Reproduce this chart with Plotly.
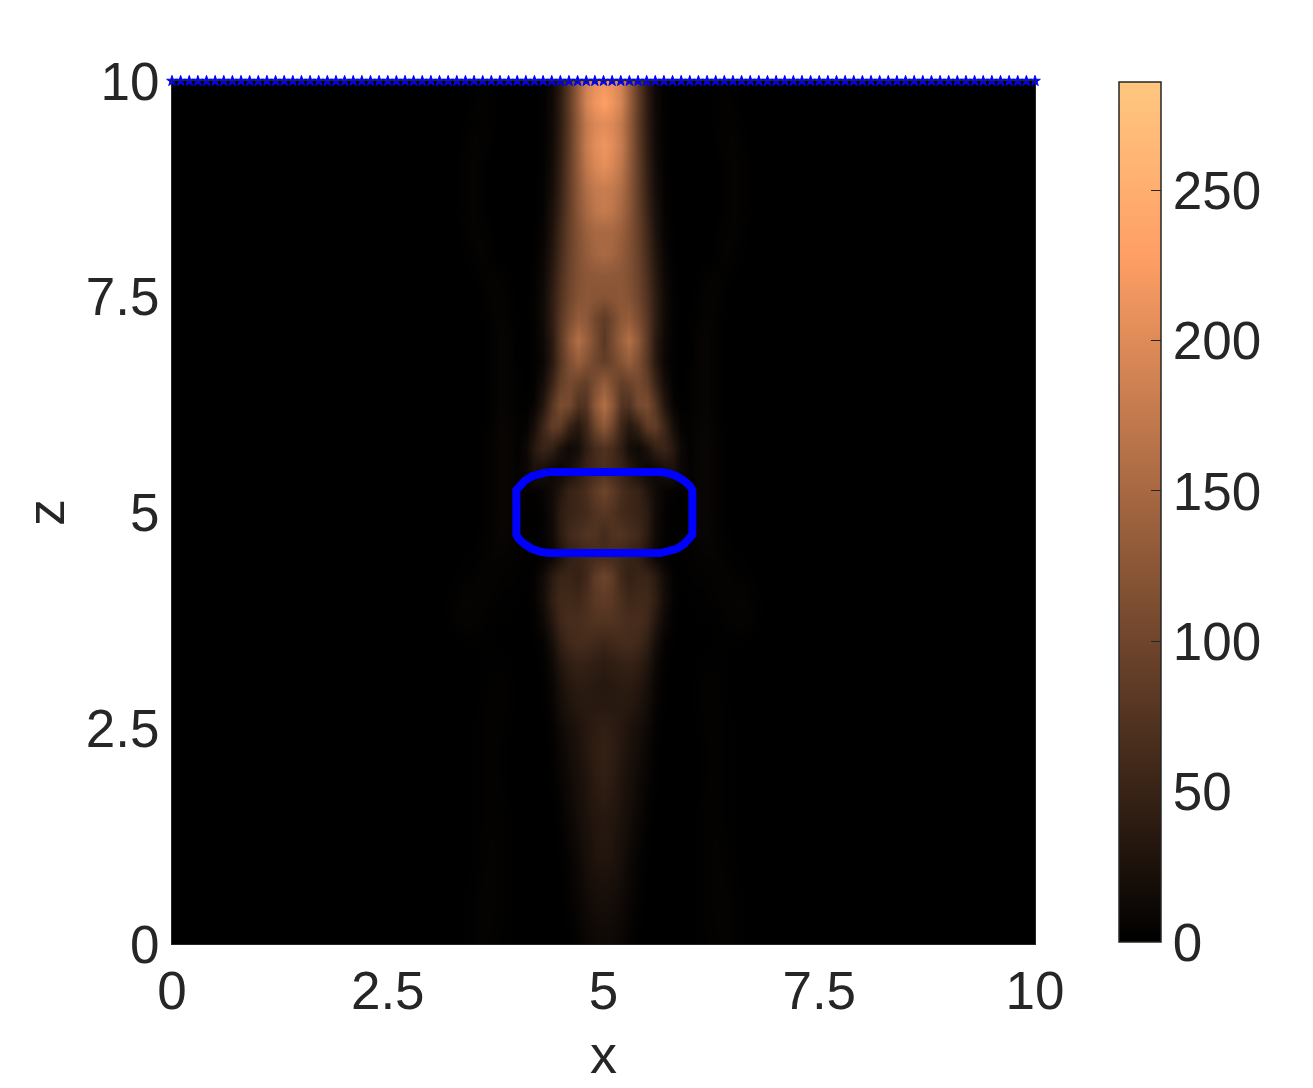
import plotly.graph_objects as go

# half-profile offsets from the centre line x = 5
dx = [0, .1, .2, .3, .4, .5, .6, .7, .8, .9, 1.0, 1.1, 1.2, 1.3, 1.4, 1.5, 1.6, 1.7, 1.8, 1.9, 2.0]
z_levels = [10, 9.75, 9.5, 9.25, 9, 8.75, 8.5, 8.25, 8, 7.75, 7.5, 7.25, 7, 6.75, 6.5, 6.25, 6, 5.75, 5.5, 5.25,
            5, 4.75, 4.5, 4.25, 4, 3.75, 3.5, 3.25, 3, 2.75, 2.5, 2.25, 2, 1.5, 1, .5, 0]
half_rows = [
 [215,208,185,138, 84, 38, 12,  2, 0, 0, 0, 0, 0, 1, 2, 1, 0, 0, 0, 0, 0],
 [228,215,190,140, 86, 40, 13,  2, 0, 0, 0, 0, 0, 2, 3, 2, 0, 0, 0, 0, 0],
 [203,196,175,133, 84, 40, 14,  2, 0, 0, 0, 0, 0, 1, 3, 3, 1, 0, 0, 0, 0],
 [215,202,178,135, 86, 42, 15,  3, 0, 0, 0, 0, 0, 1, 3, 4, 2, 0, 0, 0, 0],
 [205,194,170,132, 87, 45, 17,  3, 0, 0, 0, 0, 0, 0, 2, 4, 3, 1, 0, 0, 0],
 [180,175,158,127, 88, 48, 19,  4, 0, 0, 0, 0, 0, 0, 2, 4, 3, 1, 0, 0, 0],
 [178,170,150,124, 90, 52, 23,  5, 0, 0, 0, 0, 0, 0, 2, 4, 3, 1, 0, 0, 0],
 [150,150,138,118, 92, 57, 27,  7, 1, 0, 0, 0, 0, 1, 3, 4, 2, 0, 0, 0, 0],
 [152,146,132,116, 93, 62, 31,  9, 1, 0, 0, 0, 0, 1, 4, 3, 1, 0, 0, 0, 0],
 [128,128,125,115, 96, 67, 36, 12, 2, 0, 0, 1, 3, 4, 3, 1, 0, 0, 0, 0, 0],
 [120,122,125,118,100, 72, 41, 15, 3, 0, 0, 2, 4, 4, 1, 0, 0, 0, 0, 0, 0],
 [ 85,102,126,132,110, 78, 42, 15, 3, 0, 1, 3, 5, 3, 1, 0, 0, 0, 0, 0, 0],
 [ 80,108,138,160,128, 82, 38, 12, 2, 0, 1, 5, 6, 2, 0, 0, 0, 0, 0, 0, 0],
 [ 88,100,120,136,114, 78, 36, 10, 2, 0, 1, 5, 6, 2, 0, 0, 0, 0, 0, 0, 0],
 [132,112, 88, 95,106, 90, 52, 18, 3, 0, 2, 5, 6, 3, 0, 0, 0, 0, 0, 0, 0],
 [160,128, 75, 72,105,110, 78, 32, 7, 1, 2, 5, 6, 3, 0, 0, 0, 0, 0, 0, 0],
 [128,100, 55, 34, 50, 85, 88, 55, 20, 4, 3, 6, 7, 3, 1, 0, 0, 0, 0, 0, 0],
 [ 72, 62, 42, 18, 12, 25, 45, 52, 36, 10, 3, 7, 8, 4, 1, 0, 0, 0, 0, 0, 0],
 [ 68, 60, 50, 34, 18, 10, 12, 22, 24, 9, 4, 7, 8, 4, 1, 0, 0, 0, 0, 0, 0],
 [ 98, 85, 65, 55, 50, 30, 15,  6, 3, 2, 4, 7, 8, 4, 1, 0, 0, 0, 0, 0, 0],
 [ 78, 72, 60, 55, 50, 40, 15,  4, 1, 1, 3, 7, 8, 4, 1, 0, 0, 0, 0, 0, 0],
 [ 60, 72, 74, 65, 58, 38, 14,  4, 1, 1, 3, 6, 7, 4, 2, 0, 0, 0, 0, 0, 0],
 [ 62, 60, 55, 50, 44, 25,  9,  2, 1, 2, 3, 4, 5, 5, 3, 1, 1, 0, 0, 0, 0],
 [ 98, 85, 58, 46, 52, 52, 38, 16, 3, 1, 2, 3, 3, 5, 5, 3, 2, 1, 0, 0, 0],
 [ 85, 80, 66, 56, 58, 58, 42, 18, 4, 0, 1, 1, 2, 3, 4, 5, 5, 3, 1, 0, 0],
 [ 74, 74, 68, 64, 64, 56, 34, 12, 2, 0, 0, 1, 1, 1, 3, 4, 5, 4, 1, 0, 0],
 [ 54, 58, 62, 62, 58, 44, 20,  5, 1, 0, 0, 0, 0, 1, 1, 1, 1, 0, 0, 0, 0],
 [ 38, 42, 46, 48, 43, 30, 12,  2, 0, 0, 0, 1, 2, 2, 1, 0, 0, 0, 0, 0, 0],
 [ 34, 36, 38, 38, 33, 22,  8,  1, 0, 0, 0, 2, 3, 3, 1, 0, 0, 0, 0, 0, 0],
 [ 36, 36, 36, 34, 27, 17,  6,  1, 0, 0, 0, 2, 3, 3, 2, 0, 0, 0, 0, 0, 0],
 [ 44, 40, 34, 27, 20, 12,  3,  0, 0, 0, 0, 1, 3, 3, 2, 1, 0, 0, 0, 0, 0],
 [ 46, 41, 33, 25, 17, 9,  2,  0, 0, 0, 0, 0, 2, 3, 2, 1, 0, 0, 0, 0, 0],
 [ 45, 40, 30, 22, 15, 7,  2,  0, 0, 0, 0, 0, 2, 3, 2, 1, 0, 0, 0, 0, 0],
 [ 35, 32, 25, 18, 10, 3,  0,  0, 0, 0, 0, 1, 3, 3, 2, 1, 0, 0, 0, 0, 0],
 [ 30, 28, 20, 12,  5, 1,  0,  0, 0, 0, 0, 1, 3, 4, 3, 1, 0, 0, 0, 0, 0],
 [ 20, 18, 14,  8,  3, 0,  0,  0, 0, 0, 0, 1, 3, 4, 4, 2, 1, 0, 0, 0, 0],
 [ 12, 12,  8,  3,  0, 0,  0,  0, 0, 0, 0, 1, 2, 3, 4, 2, 1, 0, 0, 0, 0],
]

# mirrored about x = 5, black background beyond
x_grid = [0] + [5 - d for d in reversed(dx[1:])] + [5 + d for d in dx] + [10]
z_grid = list(reversed(z_levels))
field = [[0] + list(reversed(r[1:])) + r + [0] for r in reversed(half_rows)]

# closed blue curve
box_x = [4.36, 4.27, 4.17, 4.09, 4.02, 3.99, 3.99, 4.02, 4.09, 4.17, 4.27, 4.36,
         5.66, 5.75, 5.85, 5.93, 6.00, 6.03, 6.03, 6.00, 5.93, 5.85, 5.75, 5.66, 4.36]
box_z = [5.47, 5.455, 5.42, 5.37, 5.31, 5.26, 4.74, 4.69, 4.63, 4.58, 4.545, 4.53,
         4.53, 4.545, 4.58, 4.63, 4.69, 4.74, 5.26, 5.31, 5.37, 5.42, 5.455, 5.47, 5.47]

# source points along the top edge
star_x = [i / 10 for i in range(101)]
star_z = [10] * 101

x_ticks = [0, 2.5, 5, 7.5, 10]
x_labels = ["0", "2.5", "5", "7.5", "10"]
z_ticks = [0, 2.5, 5, 7.5, 10]
z_labels = ["0", "2.5", "5", "7.5", "10"]
cbar_ticks = [0, 50, 100, 150, 200, 250]
zmax = 286

FONT = "Liberation Sans, Arial, sans-serif"
INK = "#262626"
W, H = 1313, 1088
L, R, T, B = 172, 1035, 81, 944
copper = [[0, "rgb(0,0,0)"], [0.8, "rgb(255,159,101)"], [1, "rgb(255,199,127)"]]

fig = go.Figure()
fig.add_trace(go.Heatmap(
    x=x_grid, y=z_grid, z=field, zmin=0, zmax=zmax, zsmooth="best", colorscale=copper,
    colorbar=dict(
        x=1119 / W, xanchor="left", xpad=0, ypad=0, y=1 - 82 / H, yanchor="top",
        lenmode="pixels", len=860, thicknessmode="pixels", thickness=42,
        outlinewidth=1.5, outlinecolor=INK, borderwidth=0,
        tickmode="array", tickvals=cbar_ticks, ticktext=[str(v) for v in cbar_ticks],
        ticks="inside", ticklen=10, tickwidth=1, tickcolor=INK, ticklabelposition="outside",
        tickfont=dict(family=FONT, size=53, color=INK),
    ),
    hoverinfo="skip",
))
fig.add_trace(go.Scatter(x=box_x, y=box_z, mode="lines", line=dict(color="#0000FF", width=8), hoverinfo="skip"))
fig.add_trace(go.Scatter(x=star_x, y=star_z, mode="markers", cliponaxis=False,
                         marker=dict(symbol="star", size=8, color="#0000FF", line=dict(color="#0000FF", width=1)),
                         hoverinfo="skip"))

axis_common = dict(range=[0, 10], tickmode="array", showgrid=False, zeroline=False, showline=True,
                   linecolor=INK, linewidth=1, mirror=True, ticks="", automargin=False,
                   tickfont=dict(family=FONT, size=53, color=INK))
fig.update_layout(
    width=W, height=H, paper_bgcolor="white", plot_bgcolor="black", showlegend=False,
    margin=dict(l=0, r=0, t=0, b=0, autoexpand=False),
    xaxis=dict(axis_common, domain=[L / W, R / W], tickvals=x_ticks, ticktext=x_labels, ticklabelstandoff=0,
               title=dict(text="x", font=dict(family=FONT, size=54, color=INK), standoff=16)),
    yaxis=dict(axis_common, domain=[1 - B / H, 1 - T / H], tickvals=z_ticks, ticktext=z_labels, ticklabelstandoff=1,
               title=dict(text="z", font=dict(family=FONT, size=54, color=INK), standoff=3)),
)
fig.write_html("out.html", config={"displayModeBar": False},
               post_script="document.body.style.margin='0';document.documentElement.style.overflow='hidden';")
